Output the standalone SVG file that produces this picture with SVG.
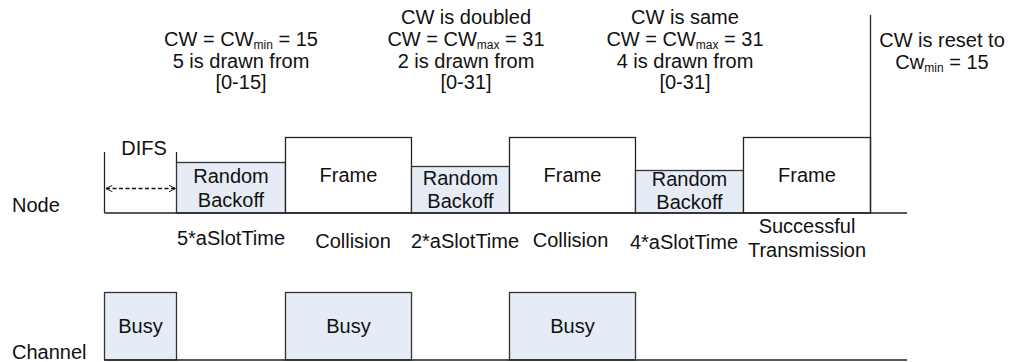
<svg xmlns="http://www.w3.org/2000/svg" width="1010" height="362" viewBox="0 0 1010 362">
  <style>
    text { font-family: "Liberation Sans", Arial, sans-serif; font-size: 20px; fill: #111; }
    .c { text-anchor: middle; }
    .sub { font-size: 12px; }
    .box { fill: #ffffff; stroke: #222; stroke-width: 1.3; }
    .bo { fill: #e6ecf6; stroke: #333; stroke-width: 1.3; }
    .ln { fill: none; stroke: #222; stroke-width: 1.3; }
    .dash { fill: none; stroke: #111; stroke-width: 1.3; stroke-dasharray: 4 2.5; }
  </style>
  <defs>
    <marker id="chev" viewBox="0 0 10 10" refX="9" refY="5" markerWidth="8" markerHeight="8" orient="auto-start-reverse" markerUnits="userSpaceOnUse">
      <path d="M1 1 L9 5 L1 9" fill="none" stroke="#111" stroke-width="1.2"/>
    </marker>
  </defs>

  <!-- row labels -->
  <text x="12" y="212">Node</text>
  <text x="12" y="359">Channel</text>

  <!-- contention window notes -->
  <g id="note1">
    <text class="c" x="241" y="45.5">CW = CW<tspan class="sub" dy="3">min</tspan><tspan dy="-3"> = 15</tspan></text>
    <text class="c" x="241" y="67.5">5 is drawn from</text>
    <text class="c" x="241" y="89">[0-15]</text>
  </g>
  <g id="note2">
    <text class="c" x="466" y="23.5">CW is doubled</text>
    <text class="c" x="466" y="45.5">CW = CW<tspan class="sub" dy="3">max</tspan><tspan dy="-3"> = 31</tspan></text>
    <text class="c" x="466" y="67.5">2 is drawn from</text>
    <text class="c" x="466" y="89">[0-31]</text>
  </g>
  <g id="note3">
    <text class="c" x="685" y="23.5">CW is same</text>
    <text class="c" x="685" y="45.5">CW = CW<tspan class="sub" dy="3">max</tspan><tspan dy="-3"> = 31</tspan></text>
    <text class="c" x="685" y="67.5">4 is drawn from</text>
    <text class="c" x="685" y="89">[0-31]</text>
  </g>
  <g id="note4">
    <text class="c" x="942" y="46.5">CW is reset to</text>
    <text class="c" x="942" y="69">Cw<tspan class="sub" dy="3">min</tspan><tspan dy="-3"> = 15</tspan></text>
  </g>

  <!-- node timeline -->
  <g id="difs">
    <text class="c" x="144" y="155">DIFS</text>
  </g>
  <g id="backoff1">
    <rect class="bo" x="176.5" y="162.5" width="109" height="50.5"/>
    <text class="c" x="231" y="182.5">Random</text>
    <text class="c" x="231" y="206.5">Backoff</text>
  </g>
  <g id="frame1">
    <rect class="box" x="285.5" y="137.5" width="126" height="75.5"/>
    <text class="c" x="348.5" y="181.5">Frame</text>
  </g>
  <g id="backoff2">
    <rect class="bo" x="411.5" y="166.5" width="98" height="46.5"/>
    <text class="c" x="460.5" y="184.5">Random</text>
    <text class="c" x="460.5" y="208">Backoff</text>
  </g>
  <g id="frame2">
    <rect class="box" x="509.5" y="137.5" width="126" height="75.5"/>
    <text class="c" x="572.5" y="181.5">Frame</text>
  </g>
  <g id="backoff3">
    <rect class="bo" x="635.5" y="170.5" width="108" height="42.5"/>
    <text class="c" x="689.5" y="186">Random</text>
    <text class="c" x="689.5" y="209">Backoff</text>
  </g>
  <g id="frame3">
    <rect class="box" x="743.5" y="137.5" width="127" height="75.5"/>
    <text class="c" x="807" y="181.5">Frame</text>
  </g>

  <!-- interval labels under the node line -->
  <text class="c" x="231" y="245">5*aSlotTime</text>
  <text class="c" x="353" y="248">Collision</text>
  <text class="c" x="465" y="247.5">2*aSlotTime</text>
  <text class="c" x="570.5" y="246.5">Collision</text>
  <text class="c" x="684" y="249">4*aSlotTime</text>
  <text class="c" x="807" y="233">Successful</text>
  <text class="c" x="807" y="257">Transmission</text>

  <!-- channel timeline -->
  <g id="busy1">
    <rect class="bo" x="104.5" y="292.5" width="72" height="67.5"/>
    <text class="c" x="140.5" y="333">Busy</text>
  </g>
  <g id="busy2">
    <rect class="bo" x="285.5" y="292.5" width="126" height="67.5"/>
    <text class="c" x="348.5" y="333">Busy</text>
  </g>
  <g id="busy3">
    <rect class="bo" x="509.5" y="292.5" width="126" height="67.5"/>
    <text class="c" x="572.5" y="333">Busy</text>
  </g>

  <!-- axes and connectors -->
  <g id="connectors">
    <line class="ln" x1="104.5" y1="213" x2="907" y2="213"/>
    <line class="ln" x1="104.5" y1="360" x2="907" y2="360"/>
    <line class="ln" x1="104.5" y1="152" x2="104.5" y2="213"/>
    <line class="ln" x1="176.5" y1="152" x2="176.5" y2="163"/>
    <line class="ln" x1="870.5" y1="15" x2="870.5" y2="213"/>
    <line class="dash" x1="106" y1="188.5" x2="175.5" y2="188.5" marker-start="url(#chev)" marker-end="url(#chev)"/>
  </g>
</svg>
